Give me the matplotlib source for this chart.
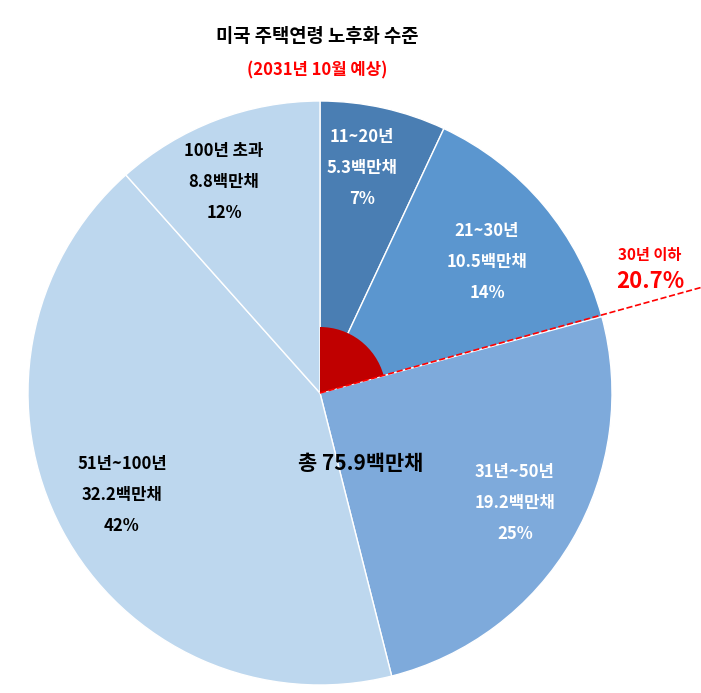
import numpy as np
import matplotlib.pyplot as plt
from matplotlib.patches import Wedge

plt.rcParams['font.family'] = ['Noto Sans CJK KR', 'DejaVu Sans']

ages = ['11~20년', '21~30년', '31년~50년', '51년~100년', '100년 초과']
units = [5.3, 10.5, 19.2, 32.2, 8.8]
shares = ['7%', '14%', '25%', '42%', '12%']
colors = ['#4a7eb3', '#5b96cf', '#7eaadb', '#bdd7ee', '#bdd7ee']
text_colors = ['white', 'white', 'white', 'black', 'black']
label_pos = [(362, 168), (487, 262), (515, 503), (122, 495), (224, 182)]
under30 = 20.7

fig = plt.figure(figsize=(7.01, 6.93), dpi=100)
ax = fig.add_axes([0, 0, 1, 1])
ax.set_xlim(0, 701)
ax.set_ylim(-693, 0)
ax.set_aspect('equal')
ax.axis('off')

cx, cy, r = 320, -393, 292
ax.pie(units, colors=colors, startangle=90, counterclock=False,
       radius=r, center=(cx, cy), frame=True,
       wedgeprops=dict(edgecolor='white', linewidth=1))
ax.set_xlim(0, 701)
ax.set_ylim(-693, 0)
ax.axis('off')

ang = 90 - under30 / 100 * 360
ax.add_patch(Wedge((cx, cy), 66, ang, 90, facecolor='#c00000', edgecolor='none', zorder=3))
L = 400
ax.plot([cx, cx + L * np.cos(np.radians(ang))], [cy, cy + L * np.sin(np.radians(ang))],
        '--', color='red', lw=1.2, zorder=4)

for i in range(len(ages)):
    x, y = label_pos[i]
    ax.text(x, -y, f'{ages[i]}\n{units[i]}백만채\n{shares[i]}', ha='center', va='center',
            color=text_colors[i], fontsize=12, fontweight='bold', linespacing=1.9, zorder=5)

ax.text(650, -255, '30년 이하', color='red', fontsize=11, fontweight='bold', ha='center', va='center')
ax.text(650, -281, f'{under30}%', color='red', fontsize=16, fontweight='bold', ha='center', va='center')

ax.text(322, -463, '총 ', fontsize=15, fontweight='bold', ha='right', va='center')
ax.text(322, -463, '75.9백만채', fontsize=15, fontweight='bold', ha='left', va='center')

ax.text(317, -36, '미국 주택연령 노후화 수준', fontsize=13.5, fontweight='bold', ha='center', va='center')
ax.text(317, -70, '(2031년 10월 예상)', fontsize=12, fontweight='bold', color='red', ha='center', va='center')

fig.savefig('out.png', dpi=100)
